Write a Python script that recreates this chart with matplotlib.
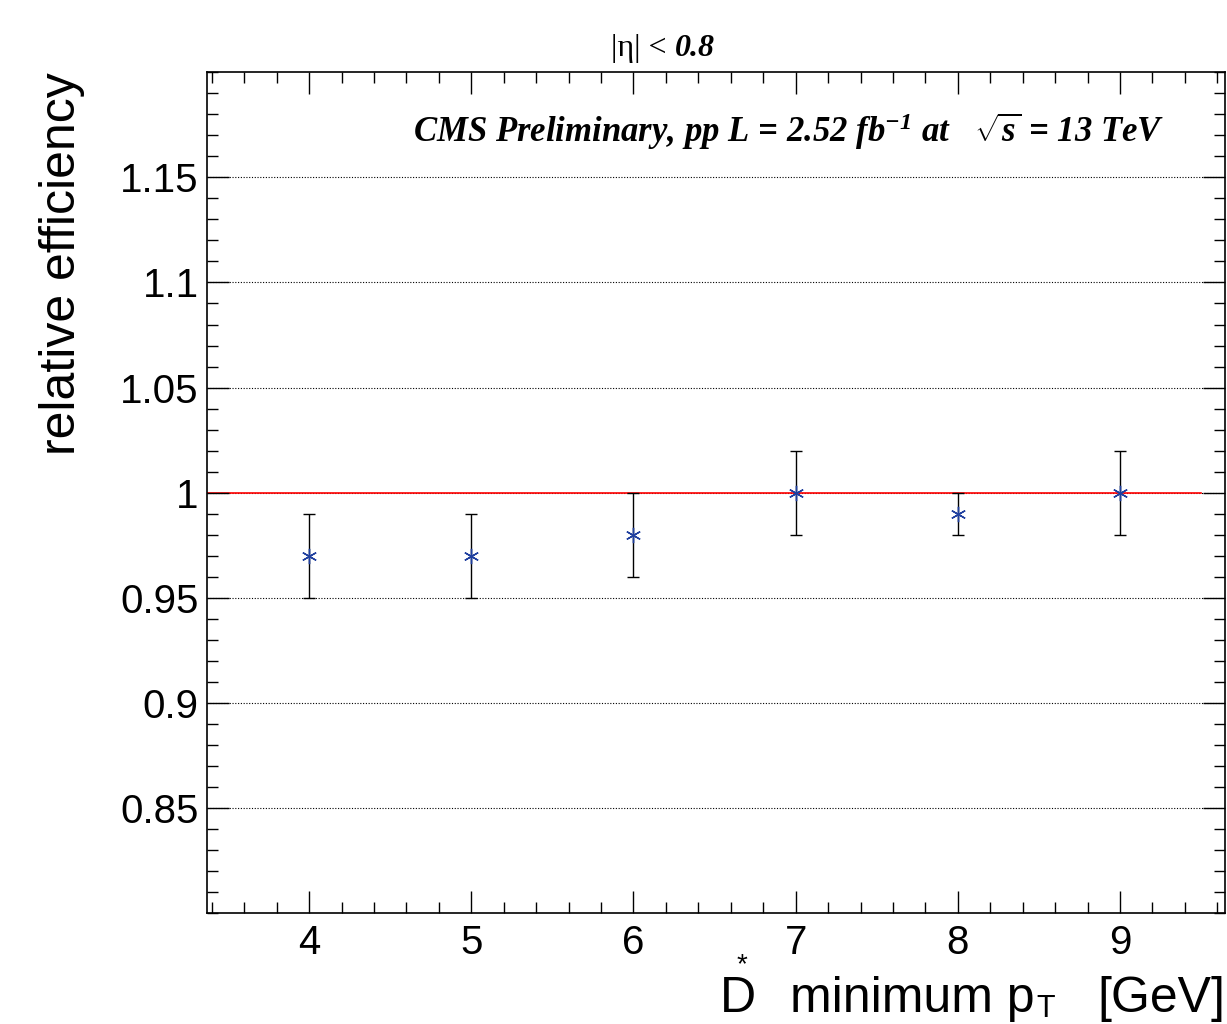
import matplotlib
matplotlib.use("Agg")
from matplotlib import pyplot as plt
from matplotlib.ticker import MultipleLocator

pt_min = [4, 5, 6, 7, 8, 9]
eff = [0.97, 0.97, 0.98, 1.00, 0.99, 1.00]
eff_err = [0.02, 0.02, 0.02, 0.02, 0.01, 0.02]
y_ticks = [0.85, 0.9, 0.95, 1, 1.05, 1.1, 1.15]
y_labels = ["0.85", "0.9", "0.95", "1", "1.05", "1.1", "1.15"]

plt.rcParams["font.family"] = "Liberation Sans"
plt.rcParams["mathtext.fontset"] = "custom"
plt.rcParams["mathtext.rm"] = "Liberation Serif:italic:bold"
plt.rcParams["mathtext.it"] = "Liberation Serif:italic:bold"
plt.rcParams["mathtext.bf"] = "Liberation Serif:italic:bold"

fig = plt.figure(figsize=(12.27, 10.24), dpi=100)
ax = fig.add_axes([0.1687, 0.1084, 0.83, 0.821])

ax.set_xlim(3.37, 9.65)
ax.set_ylim(0.8, 1.2)

for y in y_ticks:
    ax.axhline(y, color="black", lw=0.8, ls=(0, (1, 1.5)), zorder=0)
ax.plot([3.37, 9.5], [1, 1], color="red", lw=1.2, zorder=1)
ax.errorbar(pt_min, eff, yerr=eff_err, fmt="none", ecolor="black",
            elinewidth=1, capsize=4, capthick=1, zorder=2)
ax.plot(pt_min, eff, ls="none", marker=(6, 2, 0), ms=11, mew=1,
        color="#1f3f9f", zorder=3)

ax.set_xticks(pt_min)
ax.xaxis.set_minor_locator(MultipleLocator(0.2))
ax.set_yticks(y_ticks)
ax.set_yticklabels(y_labels)
ax.yaxis.set_minor_locator(MultipleLocator(0.01))
ax.tick_params(which="both", direction="in", top=True, right=True,
               labelsize=29, width=1)
ax.tick_params(which="major", length=16)
ax.tick_params(which="minor", length=8)
ax.tick_params(axis="x", pad=8)
ax.tick_params(axis="y", pad=6)
for s in ax.spines.values():
    s.set_linewidth(1.2)

ax.set_ylabel("relative efficiency", fontsize=36)
ax.yaxis.set_label_coords(-0.12, 1.0)
ax.yaxis.label.set_ha("right")
fig.text(720 / 1227, 0.002, "D", fontsize=36, ha="left", va="bottom")
fig.text(742 / 1227, 0.045, "*", fontsize=20, ha="center", va="bottom")
fig.text(790 / 1227, 0.002, "minimum p", fontsize=36, ha="left", va="bottom")
fig.text(1036 / 1227, 0.0, "T", fontsize=22, ha="left", va="bottom")
fig.text(1225 / 1227, 0.002, "[GeV]", fontsize=36, ha="right", va="bottom")
fig.text(0.55, 0.938, "|\u03b7| < ", fontsize=23, ha="right", va="bottom",
         family="Liberation Serif")
fig.text(0.55, 0.938, "0.8", fontsize=23, ha="left", va="bottom",
         family="Liberation Serif", style="italic", weight="bold")
ax.text(0.94, 0.93,
        r"CMS Preliminary, pp L = 2.52 fb$^{-1}$ at   $\sqrt{s}$ = 13 TeV",
        transform=ax.transAxes, ha="right", va="center", fontsize=25,
        fontweight="bold", style="italic", family="Liberation Serif")

fig.savefig("out.png", dpi=100)
